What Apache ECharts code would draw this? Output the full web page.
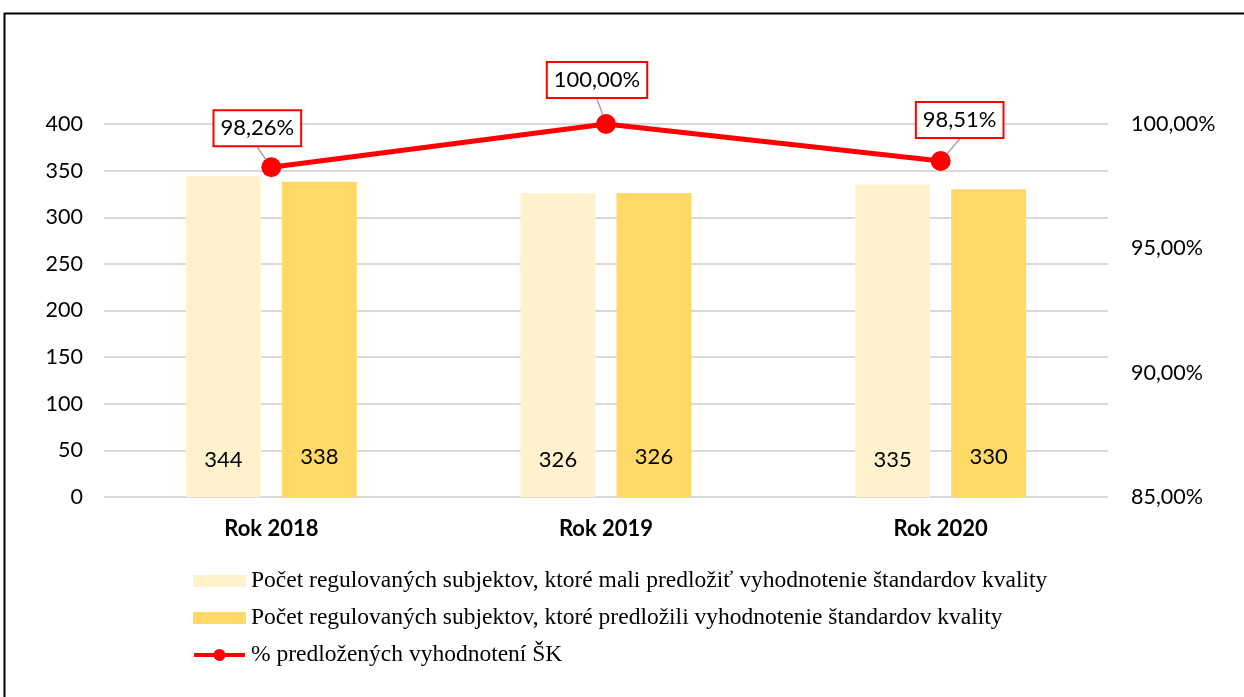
<!DOCTYPE html>
<html>
<head>
<meta charset="UTF-8">
<title></title>
<script src="https://cdn.jsdelivr.net/npm/echarts@6/dist/echarts.min.js"></script>
<style>
	html, body { margin: 0; padding: 0; background: #fff; }
</style>
</head>
<body>
<div id="chart" style="width: 1244px; height: 697px;"></div>
<script type="text/javascript">
	// data
	var roky = ['Rok 2018', 'Rok 2019', 'Rok 2020'];
	var malPredlozit = [344, 326, 335];
	var predlozili = [338, 326, 330];
	var percento = [98.26, 100.00, 98.51];
	var nazvy = [
		'Počet regulovaných subjektov, ktoré mali predložiť vyhodnotenie štandardov kvality',
		'Počet regulovaných subjektov, ktoré predložili vyhodnotenie štandardov kvality',
		'% predložených vyhodnotení ŠK'
	];

	var font = 'Lato, "Open Sans", sans-serif';
	// posuny popiskov (dx, dy) pri bodoch ciary
	var posuny = [[-14, -39], [-9, -44], [19, -41]];
	// ikona legendy: ciara s bodom (jeden obrys, 54x13)
	var ikonaCiara = 'path://M0,4.25L20.95,4.25A6.5,6.5 0 0,1 33.05,4.25L54,4.25L54,8.75L33.05,8.75A6.5,6.5 0 0,1 20.95,8.75L0,8.75Z';

	var fmtPct = function(v) {
		return v.toFixed(2).replace('.', ',') + '%';
	};

	var my_echarts = echarts.init(document.getElementById('chart'));
	var option = {
		backgroundColor: '#fff',
		animation: false,
		graphic: [{
			type: 'rect',
			shape: { x: 4.5, y: 13.5, width: 1300, height: 720 },
			style: { fill: 'none', stroke: '#000', lineWidth: 2 }
		}],
		grid: { left: 104, right: 136, top: 124, bottom: 200 },
		legend: {
			orient: 'vertical',
			left: 188,
			top: 564,
			itemWidth: 53,
			itemHeight: 12,
			itemGap: 13,
			textStyle: {
				fontFamily: '"Liberation Serif", "Times New Roman", serif',
				fontSize: 23.5,
				color: '#000'
			},
			data: [
				{ name: nazvy[0], icon: 'rect' },
				{ name: nazvy[1], icon: 'rect' },
				{ name: nazvy[2], icon: ikonaCiara, itemStyle: { color: '#ff0000', borderWidth: 0 } }
			]
		},
		xAxis: {
			type: 'category',
			data: roky,
			axisLine: { show: false },
			axisTick: { show: false },
			axisLabel: {
				fontFamily: font,
				fontSize: 22,
				fontWeight: 'bold',
				color: '#000',
				margin: 21
			}
		},
		yAxis: [{
			type: 'value',
			min: 0,
			max: 400,
			interval: 50,
			axisLine: { show: false },
			axisTick: { show: false },
			axisLabel: { fontFamily: font, fontSize: 21.5, color: '#000', margin: 21 },
			splitLine: { lineStyle: { color: '#d9d9d9', width: 2 } }
		}, {
			type: 'value',
			min: 85,
			max: 100,
			interval: 5,
			axisLine: { show: false },
			axisTick: { show: false },
			splitLine: { show: false },
			axisLabel: {
				fontFamily: font,
				fontSize: 21.5,
				color: '#000',
				margin: 23,
				formatter: function(v) { return fmtPct(v); }
			}
		}],
		series: [{
			name: nazvy[0],
			type: 'bar',
			data: malPredlozit,
			barWidth: 75,
			barGap: '28%',
			itemStyle: { color: '#fff2cc' },
			label: {
				show: true,
				position: 'insideBottom',
				distance: 26,
				fontFamily: font,
				fontSize: 22,
				color: '#000'
			}
		}, {
			name: nazvy[1],
			type: 'bar',
			data: predlozili,
			barWidth: 75,
			itemStyle: { color: '#ffd966' },
			label: {
				show: true,
				position: 'insideBottom',
				distance: 29,
				fontFamily: font,
				fontSize: 22,
				color: '#000'
			}
		}, {
			name: nazvy[2],
			type: 'line',
			yAxisIndex: 1,
			data: percento,
			symbol: 'circle',
			symbolSize: 20,
			z: 5,
			lineStyle: { color: '#ff0000', width: 5 },
			itemStyle: { color: '#ff0000' },
			label: {
				show: true,
				position: 'inside',
				fontFamily: font,
				fontSize: 22,
				color: '#000',
				backgroundColor: '#fff',
				borderColor: '#ff0000',
				borderWidth: 2,
				padding: [7, 6, 5, 6],
				formatter: function(p) { return fmtPct(p.value); }
			},
			labelLine: {
				show: true,
				lineStyle: { color: '#a6a6a6', width: 1.5 }
			},
			labelLayout: function(params) {
				var p = posuny[params.dataIndex];
				return { dx: p[0], dy: p[1] };
			}
		}]
	};
	my_echarts.setOption(option);
</script>
</body>
</html>
